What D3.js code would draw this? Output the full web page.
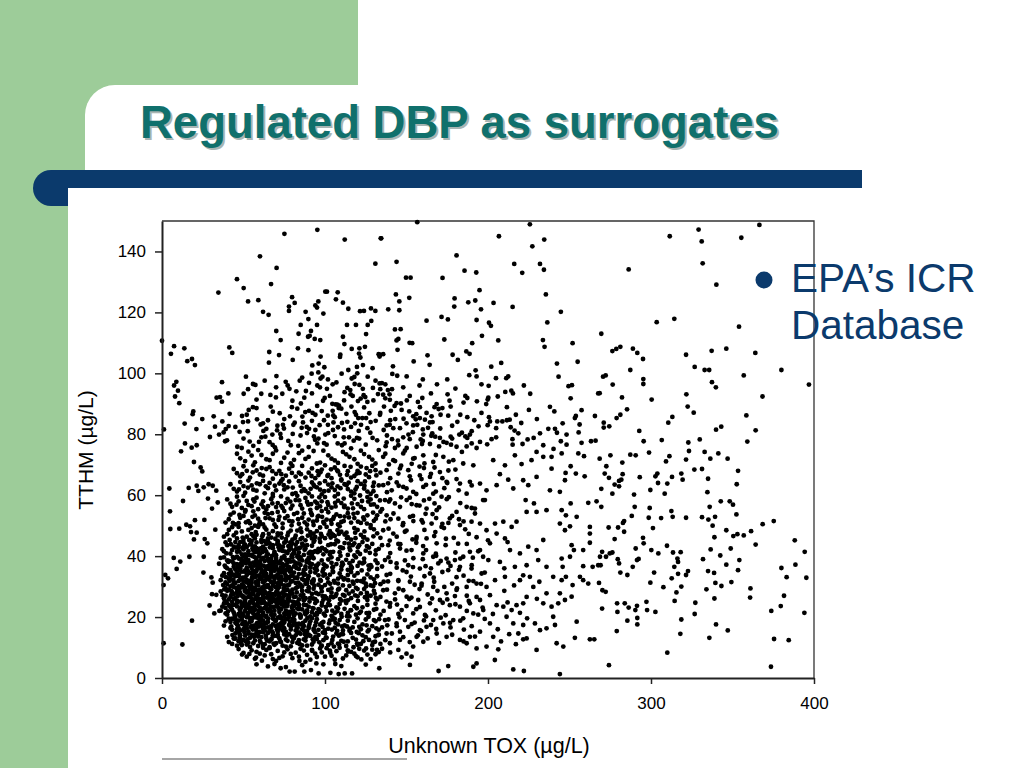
<!DOCTYPE html>
<html>
<head>
<meta charset="utf-8">
<script src="https://cdn.jsdelivr.net/npm/d3@7"></script>
<style>
  body { margin: 0; background: #fff; }
  text { font-family: "Liberation Sans", Arial, sans-serif; }
</style>
</head>
<body>
<div id="slide"></div>
<script>
/*
*    Regulated DBP as surrogates - ICR scatter
*/
var titleText = "Regulated DBP as surrogates";
var bulletLines = ["EPA\u2019s ICR", "Database"];
var xLabelText = "Unknown TOX (\u00b5g/L)";
var yLabelText = "TTHM (\u00b5g/L)";
var xTicks = [0, 100, 200, 300, 400];
var yTicks = [0, 20, 40, 60, 80, 100, 120, 140];

// [Unknown TOX, TTHM], region by region
var upperLeft = [[75.1,145.8],[95.3,147.1],[112.1,143.9],[134.2,144.3],[60.1,138.4],[70.3,134.6],[130.9,136.0],[46.0,130.9],[50.1,128.0],[34.6,126.5],[66.9,129.3],[52.8,123.6],[59.1,124.0],[62.0,120.2],[65.4,119.2],[100.2,126.8],[101.2,126.8],[107.8,126.6],[106.7,124.3],[111.0,123.2],[79.8,125.0],[77.9,121.9],[77.9,120.5],[81.4,123.1],[94.1,122.3],[95.9,123.6],[95.1,121.6],[99.0,119.6],[88.1,120.2],[89.8,117.8],[114.3,121.2],[121.5,120.4],[123.9,120.5],[128.2,121.3],[130.9,120.5],[128.4,117.2],[126.2,115.9],[113.5,115.9],[119.0,115.9],[85.1,115.9],[83.8,113.0],[91.4,113.9],[95.1,115.9],[89.6,112.0],[90.6,112.3],[93.7,111.3],[97.1,110.9],[70.1,113.9],[72.8,110.9],[111.0,112.0],[111.9,109.6],[125.2,112.9],[116.4,108.0],[121.1,108.2],[124.5,108.7],[120.9,106.5],[121.7,105.2],[132.9,106.3],[133.5,105.5],[83.4,108.2],[89.8,107.6],[65.8,107.0],[71.8,106.0],[65.6,103.5],[80.2,104.4],[97.3,105.5],[96.1,103.2],[99.6,102.0],[92.2,102.6],[109.4,106.1],[109.2,105.4],[114.3,101.1],[119.6,102.1],[123.3,102.7],[129.2,101.7],[0,110.7],[7.4,108.9],[5.5,106.4],[13.7,108.2],[15.5,104.0],[18.4,104.7],[20.2,102.7],[41.3,108.5],[43.1,106.7],[8.8,97.2],[7.4,96.0],[9.8,94.3],[8.0,92.4],[10.6,90.2],[36.8,97.1],[51.5,98.9],[33.5,92.0],[35.6,92.2],[36.8,90.7],[40.7,93.4],[50.1,93.3],[55.8,96.5],[57.3,96.2],[52.8,94.8],[60.9,93.3],[66.5,92.9],[69.9,92.1],[73.8,93.3],[75.9,97.2],[77.1,96.0],[84.5,97.6],[82.4,94.1],[88.3,94.2],[87.3,92.0],[91.8,99.9],[95.9,100.3],[97.3,98.3],[98.4,98.9],[101.8,98.0],[95.3,96.0],[96.9,95.4],[104.7,96.4],[98.8,91.0],[99.8,91.9],[113.7,95.2],[115.5,94.5],[116.4,98.3],[119.8,100.0],[118.2,96.5],[121.1,96.2],[117.0,92.6],[115.7,93.1],[123.7,92.8],[124.7,92.2],[129.4,95.2],[132.5,93.2],[133.5,96.7],[104.5,90.0],[106.5,89.8],[108.6,89.4],[120.2,90.9],[121.9,91.7],[19.2,87.5],[18.8,86.6],[24.7,85.0],[13.9,83.5],[21.1,81.7],[1.2,81.6],[31.7,85.9],[37.0,84.2],[32.5,82.5],[41.5,86.7],[40.9,82.7],[35.0,79.9],[37.8,80.6],[39.1,81.7],[29.4,79.1],[49.1,86.0],[49.7,84.0],[52.8,84.2],[53.2,88.0],[55.8,88.9],[58.3,84.9],[60.5,83.2],[62.0,83.6],[64.0,81.8],[47.6,80.8],[52.6,81.0],[53.8,77.6],[59.5,77.5],[63.4,79.2],[38.7,77.7],[39.9,78.0],[14.1,77.0],[18.2,75.6],[21.3,76.4],[11.7,74.4],[70.8,82.8],[70.6,81.3],[72.6,80.1],[74.8,81.9],[78.5,85.9],[80.6,83.1],[81.4,83.8],[86.1,85.8],[87.9,87.3],[90.2,87.7],[92.4,87.0],[94.1,86.4],[86.5,83.9],[88.8,82.4],[90.2,81.8],[99.4,84.6],[96.7,83.0],[94.1,81.4],[104.7,87.7],[105.1,86.2],[107.6,89.7],[108.4,88.6],[101.8,83.1],[104.9,81.4],[108.0,82.3],[110.4,83.7],[111.7,81.6],[113.1,86.7],[118.2,87.3],[120.4,85.3],[122.9,85.3],[125.2,85.3],[118.4,83.6],[122.1,83.1],[126.0,82.0],[127.8,80.5],[129.2,78.8],[114.7,79.0],[117.6,77.9],[119.6,78.8],[107.8,77.0],[110.4,76.4],[111.5,79.0],[93.9,78.2],[95.3,77.0],[99.4,77.1],[77.5,77.8],[83.6,76.2],[67.9,76.5],[69.3,75.7],[46.2,75.9],[48.9,75.5],[131.1,84.4],[133.9,87.0]];

var upperMid = [[156.6,149.6],[225.7,148.9],[134.5,144.3],[206.7,145.0],[227.2,141.7],[234.5,143.9],[143.9,136.6],[180.7,138.7],[216.1,135.9],[221.0,133.0],[231.9,135.9],[234.3,134.0],[149.7,131.4],[152.5,131.4],[172.1,131.3],[185.6,133.7],[192.8,133.1],[143.5,125.9],[145.6,123.6],[151.7,124.8],[138.8,121.0],[145.6,120.7],[179.5,124.6],[179.3,121.9],[187.9,123.3],[192.2,123.9],[194.8,127.3],[195.7,121.0],[203.4,123.1],[215.1,121.8],[235.5,125.9],[244.7,120.2],[162.3,117.3],[171.5,118.5],[175.4,117.7],[193.0,117.5],[200.6,116.6],[201.8,115.6],[236.4,116.7],[142.9,114.4],[146.4,114.5],[143.9,110.8],[145.0,111.3],[144.5,107.7],[151.9,110.0],[153.5,109.9],[173.2,111.1],[196.3,112.3],[206.3,110.8],[190.3,109.9],[233.7,110.9],[234.7,108.7],[251.9,109.9],[133.7,106.1],[135.7,106.3],[162.9,105.9],[164.2,102.8],[154.4,103.9],[178.3,106.1],[181.5,104.4],[186.7,107.2],[188.7,106.4],[202.0,102.2],[208.1,103.4],[242.3,103.2],[243.3,98.9],[255.0,103.8],[141.7,102.3],[141.3,99.8],[144.3,99.2],[150.1,99.0],[158.0,96.0],[168.7,96.4],[175.0,98.0],[188.5,99.4],[192.4,101.0],[193.0,99.0],[200.4,95.9],[204.9,98.4],[211.2,98.4],[212.4,99.0],[210.6,93.9],[214.3,94.3],[215.3,93.4],[225.9,93.3],[249.4,95.8],[251.5,96.1],[250.7,91.8],[267.6,93.4],[134.9,96.8],[137.0,96.4],[133.9,94.8],[138.6,94.5],[135.7,93.0],[139.6,93.1],[141.1,94.8],[139.8,91.3],[143.9,90.2],[146.6,90.1],[151.7,87.5],[157.0,90.6],[158.2,88.9],[168.5,89.9],[169.7,88.3],[170.9,86.4],[176.4,91.0],[177.1,89.1],[175.6,86.1],[186.1,92.6],[187.3,91.9],[193.2,90.8],[198.9,89.9],[199.8,91.4],[200.2,92.0],[187.3,85.6],[191.6,84.6],[194.2,82.6],[200.6,85.6],[201.2,84.2],[199.8,83.0],[205.7,84.2],[208.8,84.2],[211.6,84.6],[213.3,84.8],[211.6,88.9],[217.1,86.4],[220.4,83.7],[213.9,82.3],[216.3,81.2],[218.6,80.3],[225.1,88.0],[240.7,87.5],[245.8,83.6],[241.1,81.8],[242.3,80.5],[237.0,81.8],[231.9,80.3],[228.0,78.8],[224.3,78.3],[256.2,83.2],[257.4,87.9],[253.9,86.0],[253.3,85.3],[248.2,79.9],[255.6,80.6],[265.6,86.0],[257.4,77.2],[263.2,77.7],[266.0,77.9],[202.2,78.4],[199.5,76.7],[215.1,76.6],[221.2,76.8],[233.9,76.4],[240.2,75.2],[244.7,77.7],[248.2,76.6],[133.7,86.4],[136.2,89.1],[140.4,87.7],[143.1,85.0],[137.8,82.9],[141.9,82.0],[146.0,82.0],[148.0,79.0],[141.1,78.4],[137.8,77.3],[142.9,75.5],[150.1,75.5],[154.1,82.9],[156.6,83.1],[153.9,80.7],[160.3,79.9],[165.8,80.3],[167.6,79.2],[170.5,78.8],[174.6,77.2],[177.1,79.2],[182.4,79.9],[184.0,80.5],[186.1,79.3],[188.9,79.9],[187.3,78.8],[164.4,76.8],[159.5,76.8],[156.2,75.9],[177.3,76.6],[180.7,75.9],[186.9,76.0],[193.0,75.5],[195.1,77.5],[158.2,85.3],[161.3,84.8],[164.4,83.9],[154.1,85.9],[162.3,87.0],[165.4,85.9]];

var upperRight = [[311.5,145.0],[329.2,147.2],[331.1,143.3],[355.4,144.5],[366.5,148.7],[286.3,134.1],[331.7,136.1],[340.1,129.1],[303.5,116.8],[314.3,117.9],[354.0,115.3],[269.5,113.0],[276.3,107.3],[278.7,108.0],[281.2,108.7],[288.9,108.1],[291.6,106.7],[295.1,104.7],[321.5,106.1],[337.2,107.4],[346.2,108.1],[364.0,106.7],[287.3,101.1],[326.8,102.1],[332.9,101.1],[335.7,101.1],[380.0,101.1],[356.9,99.3],[270.6,98.9],[272.2,99.3],[276.5,96.3],[295.3,98.1],[295.3,96.5],[337.4,97.1],[339.8,95.4],[396.9,96.3],[268.5,93.5],[282.2,92.1],[300.4,91.4],[321.7,93.1],[368.4,92.4],[322.5,89.1],[326.2,87.1],[285.3,88.2],[278.9,85.3],[281.2,86.4],[271.0,83.8],[271.0,82.2],[274.4,82.6],[292.8,81.1],[310.6,83.8],[313.1,85.7],[295.5,77.7],[306.6,78.1],[322.9,77.3],[329.9,78.3],[339.9,81.5],[343.1,82.5],[358.5,86.2],[364.2,81.3],[359.1,77.6]];

var lowerLeftSparse = [[4.5,62.2],[4.9,54.7],[5.1,48.9],[10.6,49.0],[12.9,58.1],[16.4,62.4],[21.3,63.1],[22.3,61.4],[25.6,62.6],[28.6,63.6],[31.1,63.1],[33.3,61.5],[19.6,70.9],[23.7,69.1],[24.7,67.8],[14.9,50.3],[17.2,49.8],[20.2,51.8],[17.8,47.9],[21.3,47.7],[19.6,45.5],[26.0,51.9],[32.7,48.7],[26.2,45.6],[27.8,44.2],[28.2,58.9],[30.7,55.6],[34.2,57.6],[7.2,39.4],[11.2,38.2],[9.0,35.8],[16.8,39.8],[2.0,33.8],[3.7,32.7],[1.0,30.5],[25.6,39.8],[25.4,34.6],[30.3,33.0],[31.1,31.3],[30.7,27.5],[33.3,27.3],[29.2,23.8],[32.1,21.2],[35.2,22.0],[18.4,18.8],[12.5,11.0],[1.0,11.4],[49.1,7.7],[53.6,7.9],[57.7,6.7],[61.3,5.7],[72.8,3.2],[78.3,2.1],[81.4,2.1],[87.3,2.1],[91.4,2.6],[96.1,1.5],[103.3,1.7],[108.4,1.3],[112.1,1.5],[116.6,1.5],[106.3,4.6],[94.7,4.8],[84.3,5.6],[122.3,6.1],[119.0,7.2],[131.9,9.2],[133.3,3.2],[58,4.5],[65,3.8],[69,4.6],[76,3.6],[86,4.2],[99,4.5],[110,3.9],[125,4.4]];

var lowerMid = [[203.2,71.5],[210.4,69.8],[216.5,73.1],[220.6,70.2],[226.7,71.5],[229.8,74.2],[233.9,72.6],[239.0,72.6],[239.0,68.7],[245.2,73.7],[247.6,67.3],[250.7,69.5],[255.4,73.7],[258.9,72.8],[253.9,67.1],[259.3,66.2],[207.3,66.9],[212.4,65.1],[205.3,63.3],[215.5,62.2],[221.6,64.9],[229.8,66.0],[224.7,63.3],[228.2,57.3],[223.1,58.4],[223.7,54.5],[229.8,54.5],[235.9,55.1],[238.0,61.6],[244.1,61.1],[247.2,64.9],[250.7,57.3],[245.2,55.1],[247.8,53.4],[254.4,52.9],[261.5,57.5],[266.6,58.0],[244.1,50.7],[250.3,49.8],[247.2,48.5],[262.5,49.6],[262.5,47.4],[262.5,44.4],[251.3,43.6],[252.7,42.0],[258.4,42.0],[250.3,39.8],[245.2,39.2],[245.8,36.5],[258.4,36.7],[264.2,36.5],[267.6,37.0],[268.7,39.8],[256.4,33.2],[258.4,32.1],[261.5,31.0],[251.9,30.5],[247.8,33.2],[245.2,32.1],[240.0,33.2],[244.1,27.8],[243.1,24.5],[247.2,25.6],[251.3,26.7],[239.0,23.4],[240.0,20.1],[233.9,24.5],[235.9,27.8],[231.5,31.6],[227.8,29.9],[225.7,33.2],[221.6,33.7],[219.6,32.1],[223.7,26.6],[221.6,24.5],[217.5,23.9],[219.6,21.4],[214.5,22.3],[209.4,23.4],[205.3,23.9],[211.4,20.1],[215.5,17.9],[221.6,17.4],[228.8,17.9],[231.9,15.7],[235.9,16.3],[241.1,17.4],[254.4,18.5],[253.3,13.2],[262.5,12.7],[265.2,12.7],[242.1,11.4],[246.2,10.3],[229.8,9.2],[223.7,13.0],[221.6,12.7],[218.6,14.6],[217.1,11.1],[206.3,9.4],[204.2,5.9],[215.5,2.8],[222.0,2.3],[244.1,1.3],[191.0,3.7],[193.0,4.8],[175.6,3.9],[169.7,2.3],[153.1,7.0],[152.1,4.3],[147.0,6.8],[178.7,71.5],[184.8,70.4],[191.0,69.8],[195.1,63.8],[188.9,64.4],[182.8,63.8],[186.9,60.5],[199.1,61.6],[198.1,58.4],[192.0,55.6],[186.9,56.2],[180.7,54.5],[176.6,52.4],[182.8,50.2],[189.9,51.3],[195.1,50.7],[199.1,48.5],[204.3,50.7],[209.4,51.3],[214.5,49.6],[217.5,51.3],[205.3,47.4],[210.4,45.8],[201.2,44.2],[195.1,42.0],[188.9,41.4],[184.8,39.8],[179.7,38.7],[174.6,39.2],[169.5,37.6],[175.6,35.4],[182.8,36.5],[189.9,35.9],[196.1,34.3],[200.2,38.7],[207.3,38.1],[213.5,42.0],[219.6,40.9],[224.7,43.1],[229.8,42.0],[233.9,45.3],[230.8,38.7],[235.9,36.5],[223.7,37.0],[216.5,36.5],[210.4,33.2],[204.3,32.1],[199.1,29.9],[193.0,31.0],[186.9,29.9],[180.7,28.9],[174.6,27.8],[170.5,25.6],[176.6,23.9],[182.8,23.4],[188.9,24.5],[195.1,25.6],[201.2,27.2],[197.1,22.3],[191.0,21.2],[184.8,19.6],[178.7,19.0],[172.6,17.9],[166.4,19.0],[162.3,16.8],[168.5,14.6],[174.6,13.5],[182.8,12.5],[188.9,13.5],[195.1,15.2],[201.2,17.9],[203.2,13.5],[199.1,10.3],[193.0,9.7],[186.9,11.4],[160.3,11.9],[156.2,13.5],[154.1,10.3],[139.8,11.4],[146.0,12.5],[135.7,72.6],[141.9,71.5],[148.0,73.7],[154.1,72.0],[160.3,73.1],[166.4,70.9],[172.6,72.6],[137.8,68.2],[145.0,67.1],[151.1,68.2],[158.2,66.5],[164.4,66.0],[170.5,67.6],[174.6,64.4],[135.7,63.3],[140.9,61.6],[148.0,62.7],[154.1,61.1],[160.3,62.7],[166.4,60.5],[171.5,59.5],[136.8,58.4],[142.9,57.3],[150.1,58.4],[156.2,56.7],[162.3,55.6],[168.5,55.1],[137.8,53.4],[145.0,52.3],[152.1,52.9],[159.3,51.8],[165.4,50.7],[171.5,49.6],[135.7,48.5],[141.9,47.4],[149.0,48.0],[156.2,46.3],[162.3,45.8],[168.5,44.2],[138.8,43.6],[146.0,42.5],[153.1,42.0],[160.3,40.9],[166.4,39.8],[136.8,38.7],[143.9,37.6],[151.1,37.0],[158.2,35.9],[164.4,34.3],[137.8,33.8],[145.0,32.1],[152.1,31.6],[159.3,31.0],[166.4,29.9],[135.7,28.8],[142.9,27.8],[150.1,26.7],[157.2,25.6],[164.4,24.5],[139.8,23.4],[147.0,22.3],[154.1,21.2],[161.3,20.7],[136.8,19.0],[143.9,17.9],[151.1,16.8],[158.2,15.7],[137.8,14.6],[146.0,15.2]];

var lowerRight = [[268.5,72.0],[275.1,73.1],[287.3,73.3],[290.6,73.1],[298.8,74.0],[311.3,72.8],[323.3,74.5],[332.9,74.2],[341.3,73.7],[347.0,72.0],[336.4,72.0],[321.5,71.7],[309.2,71.1],[272.6,69.5],[282.4,70.7],[271.6,67.1],[274.2,65.7],[282.6,66.9],[281.8,65.1],[280.4,64.7],[277.7,63.5],[280.4,62.9],[269.5,62.1],[276.3,60.5],[293.1,65.9],[302.7,66.2],[303.9,67.1],[304.3,64.0],[310.0,63.8],[312.9,66.0],[318.6,67.1],[319.4,65.1],[326.6,68.4],[331.3,68.6],[335.0,65.4],[353.4,68.0],[352.6,63.6],[334.6,61.0],[308.4,60.5],[299.6,61.7],[289.6,60.2],[269.5,56.2],[290.0,56.2],[288.2,53.2],[283.5,51.5],[282.8,50.9],[279.8,49.4],[283.5,48.0],[274.0,49.4],[277.7,45.6],[299.2,55.8],[298.6,52.6],[301.2,49.2],[306.2,52.5],[312.5,54.8],[313.3,52.9],[321.5,52.6],[331.3,52.8],[335.2,52.0],[339.3,52.9],[337.8,50.0],[336.0,56.2],[342.8,58.0],[348.3,58.0],[350.3,56.9],[352.4,53.7],[346.2,48.5],[338.9,46.2],[353.0,47.2],[350.5,46.6],[356.9,46.8],[361.4,48.2],[364.2,43.8],[368.5,50.5],[375.3,51.5],[388.2,45.2],[394.3,41.4],[380.0,36.1],[383.2,33.1],[388.6,37.2],[395.3,32.9],[295.1,46.0],[295.5,44.2],[290.6,42.5],[291.4,38.7],[292.4,39.1],[288.8,36.5],[285.5,33.8],[280.4,37.6],[279.6,39.0],[281.2,34.6],[274.7,40.9],[276.3,41.2],[272.4,39.8],[270.0,41.4],[269.1,37.0],[268.1,31.2],[270.2,28.8],[272.2,28.3],[270.0,22.8],[279.2,24.5],[279.4,21.7],[283.9,24.5],[285.5,18.8],[286.3,23.1],[290.4,22.3],[291.4,23.7],[291.6,19.7],[291.6,17.6],[279.0,15.4],[297.6,22.3],[297.2,25.0],[302.7,21.7],[300.2,42.0],[304.5,40.9],[309.8,43.4],[313.5,41.2],[318.2,41.3],[316.2,39.2],[316.6,38.1],[314.3,36.5],[312.7,32.7],[316.6,34.2],[322.7,35.1],[321.5,33.8],[307.6,29.8],[299.6,31.3],[301.9,34.6],[318.6,30.0],[315.6,28.1],[314.5,25.3],[318.6,19.2],[318.0,14.5],[327.2,24.7],[326.8,21.0],[331.9,39.0],[336.6,42.2],[335.0,35.1],[338.7,34.5],[339.5,31.2],[343.2,30.2],[342.5,40.2],[346.2,37.2],[348.9,42.5],[349.3,31.5],[354.2,38.7],[353.4,35.4],[334.0,29.1],[338.9,26.1],[339.9,17.6],[347.1,15.6],[335.8,13.2],[310.0,8.3],[274.2,4.2],[373.8,22.0],[379.6,23.6],[381.6,27.0],[375.5,12.8],[384.5,12.4],[373.6,3.7],[394.1,21.4],[361.0,29.4],[360.8,26.4]];

// the thick cloud, band by band from the bottom up
var denseBands = [[47,9.5],[50,8.2],[55,9.1],[58,8.6],[63,7.4],[66,9.8],[68,6.2],[71,8.9],[74,7.1],[77,9.4],[80,6.5],[82,8.3],[85,9.6],[89,7.6],[92,9.2],[95,6.9],[98,8.4],[101,9.8],[104,7.3],[107,8.8],[111,6.4],[114,9.1],[118,8.0],[121,9.6],[126,7.7],[129,9.3],[133,8.5],[62,9.9],[70,5.6],[88,5.3],
[40,13.5],[43,11.2],[45,14.6],[47,12.1],[49,10.8],[51,13.9],[53,11.6],[55,14.2],[57,12.3],[59,10.5],[61,13.4],[63,11.1],[65,14.8],[67,12.6],[69,10.9],[71,13.7],[73,11.8],[75,14.3],[77,12.2],[79,10.4],[81,13.1],[83,11.5],[85,14.5],[87,12.7],[89,10.6],[91,13.8],[93,11.9],[96,14.1],[99,12.4],[102,10.8],[105,13.6],[108,11.3],[111,14.4],[114,12.0],[117,13.2],[120,10.9],[123,14.0],[127,12.5],[131,13.7],[134,11.2],[54,10.2],[66,10.1],[76,10.3],[88,14.9],[100,14.7],
[38,17.2],[41,19.5],[43,15.8],[45,18.1],[47,16.4],[49,19.2],[51,17.0],[53,15.3],[55,18.7],[57,16.1],[59,19.6],[61,17.4],[63,15.6],[65,18.4],[67,16.7],[69,19.1],[71,15.2],[73,17.9],[75,16.3],[77,19.4],[79,15.9],[81,18.2],[83,16.6],[85,19.8],[87,17.1],[89,15.4],[91,18.6],[93,16.2],[95,19.3],[97,17.5],[100,15.7],[103,18.9],[106,16.5],[109,19.0],[112,17.3],[115,15.5],[118,18.4],[121,16.8],[125,19.2],[129,17.0],[133,15.8],[52,19.9],[60,15.1],[72,19.9],[84,15.0],[46,15.2],[58,17.8],[64,19.9],[70,17.0],[80,17.3],[94,15.0],
[36,22.1],[38,24.4],[40,20.8],[42,23.2],[44,21.5],[46,24.7],[48,22.3],[50,20.4],[52,23.8],[54,21.9],[56,24.5],[58,20.7],[60,23.1],[62,21.4],[64,24.2],[66,22.6],[68,20.3],[70,23.5],[72,21.7],[74,24.8],[76,22.0],[78,20.6],[80,23.7],[82,21.2],[84,24.1],[86,22.5],[88,20.9],[90,23.4],[92,21.6],[94,24.6],[97,22.2],[100,20.5],[103,23.9],[106,21.3],[109,24.3],[112,22.7],[115,20.2],[118,23.6],[122,21.8],[126,24.0],[130,22.4],[134,20.8],[45,20.1],[51,22.0],[57,22.4],[63,22.9],[69,22.1],[75,20.2],[81,24.9],[59,25.0],[53,20.0],[67,24.9],
[37,27.2],[39,29.5],[41,25.8],[43,28.1],[45,26.4],[47,29.2],[49,27.0],[51,25.3],[53,28.7],[55,26.1],[57,29.6],[59,27.4],[61,25.6],[63,28.4],[65,26.7],[67,29.1],[69,25.2],[71,27.9],[73,26.3],[75,29.4],[77,25.9],[79,28.2],[81,26.6],[83,29.8],[85,27.1],[87,25.4],[89,28.6],[91,26.2],[93,29.3],[96,27.5],[99,25.7],[102,28.9],[105,26.5],[108,29.0],[111,27.3],[114,25.5],[117,28.4],[120,26.8],[124,29.2],[128,27.0],[132,25.8],[44,29.9],[50,29.8],[56,27.6],[62,27.0],[68,27.5],[74,28.0],[48,25.1],[58,25.9],[64,29.9],[70,29.7],[80,25.1],[54,27.5],[60,29.0],[66,28.0],[72,25.0],[78,27.0],
[36,32.1],[38,34.4],[40,30.8],[42,33.2],[44,31.5],[46,34.7],[48,32.3],[50,30.4],[52,33.8],[54,31.9],[56,34.5],[58,30.7],[60,33.1],[62,31.4],[64,34.2],[66,32.6],[68,30.3],[70,33.5],[72,31.7],[74,34.8],[76,32.0],[78,30.6],[80,33.7],[82,31.2],[84,34.1],[86,32.5],[88,30.9],[90,33.4],[92,31.6],[94,34.6],[97,32.2],[100,30.5],[103,33.9],[106,31.3],[109,34.3],[112,32.7],[115,30.2],[118,33.6],[122,31.8],[126,34.0],[130,32.4],[134,30.8],[47,30.1],[53,31.0],[59,32.0],[65,30.5],[71,34.0],[57,33.0],[63,35.0],[49,34.9],[55,30.0],[61,34.6],[67,31.5],[73,33.2],[79,35.0],
[35,37.5],[38,39.6],[40,36.0],[43,38.3],[45,35.6],[47,39.2],[49,37.0],[51,35.3],[53,38.7],[55,36.1],[57,39.6],[59,37.4],[61,35.6],[63,38.4],[65,36.7],[67,39.1],[69,35.2],[71,37.9],[73,36.3],[75,39.4],[77,35.9],[79,38.2],[81,36.6],[83,39.8],[85,37.1],[87,35.4],[89,38.6],[91,36.2],[93,39.3],[96,37.5],[99,35.7],[102,38.9],[105,36.5],[108,39.0],[111,37.3],[114,35.5],[117,38.4],[120,36.8],[124,39.2],[128,37.0],[132,35.8],[50,40.0],[56,37.9],[62,36.9],[68,38.0],[58,35.1],[64,40.0],[72,35.0],[46,37.4],
[37,42.3],[39,44.5],[42,40.8],[44,43.1],[46,41.4],[48,44.6],[50,42.2],[52,40.4],[54,43.8],[56,41.9],[58,44.5],[60,40.7],[62,43.1],[64,41.4],[66,44.2],[68,42.6],[70,40.3],[72,43.5],[74,41.7],[76,44.8],[78,42.0],[80,40.6],[82,43.7],[84,41.2],[86,44.1],[88,42.5],[90,40.9],[92,43.4],[94,41.6],[97,44.6],[100,42.2],[103,40.5],[106,43.9],[109,41.3],[112,44.3],[115,42.7],[118,40.2],[121,43.6],[125,41.8],[129,44.0],[133,42.4],[55,45.0],[65,45.0],[75,40.0],[61,42.6],
[40,47.2],[43,49.5],[46,45.8],[49,48.1],[52,46.4],[55,49.2],[58,47.0],[61,45.3],[64,48.7],[67,46.1],[70,49.6],[73,47.4],[76,45.6],[79,48.4],[82,46.7],[85,49.1],[88,45.2],[91,47.9],[94,46.3],[97,49.4],[100,45.9],[103,48.2],[106,46.6],[109,49.8],[112,47.1],[116,45.4],[120,48.6],[124,46.2],[128,49.3],[132,47.5],[57,50.0],[71,45.0],
[41,52.1],[44,54.3],[47,50.8],[50,53.2],[53,51.5],[56,54.7],[59,52.3],[62,50.4],[65,53.8],[68,51.9],[71,54.5],[74,50.7],[77,53.1],[80,51.4],[83,54.2],[86,52.6],[89,50.3],[92,53.5],[95,51.7],[98,54.8],[101,52.0],[104,50.6],[107,53.7],[110,51.2],[114,54.1],[118,52.5],[122,50.9],[126,53.4],[130,51.6],[134,54.6],
[42,57.2],[46,59.5],[49,55.8],[52,58.1],[55,56.4],[58,59.2],[61,57.0],[64,55.3],[67,58.7],[70,56.1],[73,59.6],[76,57.4],[79,55.6],[82,58.4],[85,56.7],[88,59.1],[91,55.2],[94,57.9],[97,56.3],[100,59.4],[104,55.9],[108,58.2],[112,56.6],[116,59.8],[120,57.1],[124,55.4],[128,58.6],[132,56.2],
[44,62.1],[48,64.3],[51,60.8],[55,63.2],[58,61.5],[62,64.7],[65,62.3],[68,60.4],[72,63.8],[75,61.9],[78,64.5],[82,60.7],[85,63.1],[88,61.4],[92,64.2],[95,62.6],[98,60.3],[102,63.5],[106,61.7],[110,64.8],[114,62.0],[118,60.6],[122,63.7],[126,61.2],[130,64.1],
[46,67.2],[50,69.5],[54,65.8],[58,68.1],[62,66.4],[66,69.2],[70,67.0],[74,65.3],[78,68.7],[82,66.1],[86,69.6],[90,67.4],[94,65.6],[98,68.4],[102,66.7],[106,69.1],[110,65.2],[114,67.9],[118,66.3],[122,69.4],[127,65.9],[131,68.2],
[48,72.1],[53,74.3],[57,70.8],[61,73.2],[66,71.5],[70,74.7],[75,72.3],[79,70.4],[84,73.8],[88,71.9],[93,74.5],[97,70.7],[102,73.1],[106,71.4],[111,74.2],[115,72.6],[120,70.3],[124,73.5],[129,71.7],[133,74.8]];

// second pass over the cloud, between the first-pass dots
var cloudFill = [[52,7.0],[57,6.3],[60,8.0],[64,9.2],[67,7.8],[72,6.6],[75,8.4],[79,7.9],[84,7.0],[87,9.0],[91,6.0],[94,8.0],[97,9.7],[100,7.0],[103,9.0],[106,6.0],[109,9.9],[113,7.4],[116,8.6],[120,6.8],[124,9.0],[128,6.2],[131,7.8],[135,9.6],[140,8.4],[145,9.2],[150,8.0],
[41,11.8],[44,13.0],[46,10.6],[48,14.0],[50,12.5],[52,11.0],[54,13.2],[56,11.4],[58,14.4],[60,12.2],[62,10.8],[64,13.0],[66,12.0],[68,14.0],[70,11.4],[72,13.0],[74,10.6],[76,12.6],[78,14.4],[80,11.8],[82,14.0],[84,12.4],[86,10.7],[88,12.3],[90,14.2],[92,11.0],[95,12.8],[98,10.6],[101,13.2],[104,11.4],[107,14.6],[110,12.2],[113,10.5],[116,14.8],[119,12.6],[122,11.2],[125,13.4],[129,10.8],[133,14.2],[137,12.4],[141,14.6],[148,13.4],[152,11.8],[157,14.0],[163,13.0],[170,11.5],[178,14.2],[185,12.0],[192,13.6],[208,12.0],[213,14.4],
[39,18.6],[42,16.4],[44,19.4],[46,17.6],[48,15.6],[50,18.2],[52,16.4],[54,19.6],[56,17.2],[58,15.4],[60,18.4],[62,16.2],[64,18.0],[66,15.4],[68,17.6],[70,19.0],[72,16.4],[74,18.6],[76,15.2],[78,17.4],[80,19.4],[82,15.6],[84,17.8],[86,16.0],[88,18.8],[90,16.4],[92,19.6],[94,17.2],[96,15.8],[99,18.4],[102,16.2],[105,19.2],[108,17.6],[111,15.6],[114,18.8],[117,16.6],[120,19.6],[123,17.6],[127,15.8],[131,18.6],[135,16.6],[139,19.2],[144,17.0],[149,19.0],[155,18.2],[159,15.4],[165,17.4],[171,19.8],[177,16.6],[183,18.8],[190,17.0],[198,19.4],[206,16.0],[224,19.6],
[37,23.4],[39,21.2],[41,24.0],[43,22.4],[45,24.0],[47,21.0],[49,23.6],[51,24.4],[53,21.4],[55,23.0],[57,20.6],[59,23.6],[61,24.6],[63,20.4],[65,21.8],[67,23.4],[69,20.8],[71,24.2],[73,22.6],[75,21.2],[77,23.8],[79,21.8],[81,20.4],[83,22.8],[85,20.6],[87,24.0],[89,22.2],[91,20.2],[93,22.8],[95,21.4],[98,23.8],[101,22.0],[104,20.4],[107,23.2],[110,21.0],[113,24.6],[116,22.2],[119,20.8],[123,23.2],[127,21.4],[131,24.4],[136,22.0],[140,24.6],[145,21.0],[150,23.6],[156,22.6],[162,20.2],[168,22.2],[174,20.6],[180,24.2],[187,22.0],[194,20.8],[203,21.0],[212,24.8],
[36,28.4],[38,26.2],[40,28.6],[42,26.6],[44,27.6],[46,25.4],[48,29.6],[50,26.4],[52,28.0],[54,29.4],[56,25.6],[58,28.8],[60,26.0],[62,29.2],[64,26.4],[66,29.6],[68,26.2],[70,28.2],[72,26.8],[74,25.6],[76,29.0],[78,25.4],[80,27.8],[82,29.4],[84,25.8],[86,28.6],[88,26.2],[90,29.8],[92,27.6],[95,25.2],[98,28.4],[101,26.2],[104,29.4],[107,27.6],[110,25.4],[113,28.8],[116,26.2],[119,29.6],[122,27.8],[126,25.6],[130,28.6],[134,26.6],[138,29.0],[143,25.8],[148,28.8],[153,26.4],[158,29.2],[163,27.4],[169,28.6],[175,25.8],[181,29.4],[187,27.0],[193,26.6],[210,28.6],[230,26.0],
[37,33.6],[39,31.4],[41,32.6],[43,30.4],[45,33.4],[47,31.8],[49,30.6],[51,33.0],[53,34.4],[55,31.2],[57,34.8],[59,30.4],[61,32.4],[63,30.2],[65,33.2],[67,34.8],[69,31.4],[71,30.6],[73,34.6],[75,30.4],[77,33.2],[79,31.6],[81,34.6],[83,32.8],[85,30.6],[87,33.8],[89,31.6],[91,34.8],[93,32.4],[96,30.6],[99,33.6],[102,31.4],[105,34.8],[108,32.6],[111,30.4],[114,33.8],[117,31.6],[120,34.4],[124,32.6],[128,30.4],[132,33.4],[136,31.6],[140,34.2],[145,31.8],[150,34.8],[155,30.6],[161,33.4],[167,31.6],[172,34.8],[178,31.0],[185,33.6],[191,31.8],[198,34.6],[216,30.4],
[36,39.4],[39,36.4],[41,38.4],[42,35.4],[44,37.6],[46,39.8],[48,36.0],[50,38.2],[52,35.6],[54,37.4],[56,35.2],[58,38.8],[60,36.4],[62,39.4],[64,35.8],[66,38.0],[68,36.0],[70,39.4],[72,37.6],[74,35.6],[76,38.8],[78,36.4],[80,39.6],[82,37.8],[84,35.8],[86,38.6],[88,36.6],[90,39.0],[92,37.4],[95,35.4],[98,38.6],[101,36.6],[104,39.6],[107,37.4],[110,35.6],[113,38.8],[116,36.6],[119,39.6],[123,37.6],[127,35.6],[131,38.6],[135,36.6],[139,39.6],[144,36.2],[149,38.6],[154,36.4],[160,39.0],[165,36.0],[171,38.4],[177,36.8],[183,39.2],[190,37.0],[197,39.8],[210,36.0],
[38,41.6],[40,43.6],[43,42.0],[45,44.6],[47,42.8],[49,40.6],[51,43.8],[53,41.6],[55,40.2],[57,43.2],[59,41.2],[61,44.6],[63,42.4],[65,40.6],[67,43.6],[69,41.4],[71,44.6],[73,42.2],[75,44.4],[77,41.0],[79,43.4],[81,41.8],[83,44.6],[85,42.8],[87,40.4],[89,43.6],[91,41.4],[93,44.6],[96,42.4],[99,40.6],[102,43.6],[105,41.4],[108,44.8],[111,42.6],[114,40.4],[117,43.6],[120,41.4],[123,44.6],[127,42.8],[131,40.6],[135,43.6],[140,41.0],[145,44.0],[150,41.8],[156,44.4],[162,42.0],[168,40.8],[174,43.6],[180,41.2],[187,44.0],[194,41.6],[212,44.6],
[38,46.4],[41,48.6],[44,46.8],[47,49.6],[50,45.6],[53,48.6],[56,46.6],[59,49.6],[62,47.2],[65,45.8],[68,48.2],[71,46.8],[74,49.2],[77,46.8],[80,45.4],[83,48.4],[86,46.0],[89,48.8],[92,45.8],[95,48.2],[98,46.6],[101,49.6],[104,47.4],[107,45.2],[110,48.0],[114,46.2],[118,49.2],[122,47.0],[126,45.4],[130,48.8],[134,46.0],[139,49.0],[144,46.4],[150,48.4],[156,45.6],[161,48.6],[167,46.6],[173,49.2],[179,46.0],[186,48.8],[193,46.2],[200,45.2],
[39,51.0],[42,53.6],[45,50.4],[48,52.6],[51,54.6],[54,50.8],[57,53.4],[60,51.2],[63,54.2],[66,52.4],[69,50.4],[72,53.0],[75,54.8],[78,51.6],[81,53.8],[84,50.6],[87,54.0],[90,52.0],[93,50.2],[96,53.2],[99,51.2],[102,54.4],[105,52.2],[108,50.4],[112,53.0],[116,51.0],[120,54.2],[124,52.0],[128,50.2],[132,53.4],[137,51.4],[142,54.0],[148,50.8],[154,53.2],[160,51.0],[166,53.8],[172,50.6],[178,53.2],[185,51.4],[192,54.0],
[40,58.6],[43,56.2],[47,58.0],[50,59.8],[53,56.8],[56,58.6],[59,55.4],[62,58.0],[65,56.4],[68,59.6],[71,57.4],[74,55.8],[77,58.8],[80,56.6],[83,59.8],[86,55.6],[89,57.8],[92,59.6],[95,55.8],[98,58.0],[102,56.8],[106,59.6],[110,57.4],[114,55.6],[118,58.8],[122,56.2],[126,59.4],[130,57.0],[135,55.4],[140,58.6],[146,56.2],[152,59.2],[158,56.6],[164,58.8],[170,56.0],[176,59.4],[183,57.4],[190,55.8],[197,58.4],
[42,63.6],[46,61.2],[50,63.0],[53,64.8],[56,61.8],[60,63.6],[63,60.6],[66,64.0],[70,61.6],[73,64.6],[77,62.6],[80,60.4],[84,64.6],[87,62.0],[90,60.6],[93,63.4],[97,61.8],[100,64.6],[104,62.6],[108,60.4],[112,63.6],[116,61.2],[120,64.6],[124,62.2],[128,60.4],[133,63.2],[138,61.0],[144,64.2],[150,62.2],[156,60.4],[162,63.4],[168,61.2],[175,64.0],[182,61.6],[190,63.2],
[44,68.6],[48,66.2],[52,68.0],[56,69.8],[60,66.8],[64,68.6],[68,65.4],[72,68.0],[76,66.4],[80,69.6],[84,67.4],[88,65.8],[92,68.8],[96,66.6],[100,69.8],[104,65.6],[108,67.8],[112,69.6],[116,65.8],[120,68.0],[125,66.8],[129,69.6],[134,67.4],[140,65.6],[146,68.8],[152,66.2],[158,69.4],[165,67.0],[172,65.6],[180,68.4],
[46,73.6],[51,71.2],[55,73.0],[59,74.8],[64,71.8],[68,73.6],[73,70.6],[77,74.0],[81,71.6],[86,74.6],[90,72.6],[95,70.4],[99,74.6],[104,72.0],[108,70.6],[113,73.4],[118,71.8],[122,74.6],[127,72.6],[131,70.4],[137,73.6],[143,71.2],[149,74.6],[155,72.2],[161,70.4],[168,73.2],[176,71.0],[184,74.2],
[50,78.6],[56,76.2],[61,79.0],[66,77.4],[73,78.8],[79,76.4],[85,79.6],[90,75.8],[96,78.6],[101,76.6],[106,79.4],[112,77.0],[116,75.4],[121,78.6],[125,76.6],[132,78.0],[138,79.6],[145,76.4],[152,78.4],[160,77.8],[170,76.0],[178,78.6],[190,77.0],[205,79.0],[215,78.4],
[45,82.4],[52,86.4],[58,88.6],[65,84.6],[68,87.4],[75,85.0],[83,88.4],[89,80.4],[92,84.4],[98,87.6],[102,80.4],[106,85.6],[110,88.4],[116,82.4],[119,86.4],[124,88.8],[128,84.0],[136,81.4],[140,84.6],[147,88.0],[150,83.6],[156,86.6],[160,81.6],[166,84.0],[172,88.6],[178,82.8],[183,86.4],[190,81.0],[196,87.0],[205,82.0],[230,85.0],[238,89.0],
[58,91.4],[63,97.6],[70,95.4],[80,91.0],[86,98.6],[92,93.4],[103,92.6],[107,97.0],[112,93.8],[118,98.8],[126,90.6],[131,97.6],[137,91.8],[148,95.4],[152,92.6],[160,98.0],[165,93.4],[180,95.0],[185,90.4],[196,96.4],[206,92.4],[222,96.0]];

var coreExtra = [[46,23.5],[48,27.8],[50,31.7],[52,36.2],[54,24.9],[56,29.3],[58,33.6],[60,38.1],[62,26.1],[64,30.4],[66,35.7],[68,19.5],[70,25.8],[72,29.9],[74,37.4],[76,27.3],[78,32.8],[80,21.4],[47,33.4],[49,38.8],[51,18.3],[53,26.6],[55,32.2],[57,41.3],[59,21.0],[61,28.2],[63,36.6],[65,16.6],[67,33.9],[69,40.8],[71,19.8],[73,30.9],[75,23.4],[77,37.8],[79,42.5],[44,26.0],[42,30.0],[44,36.5],[50,16.0],[56,21.2],[62,18.8],[68,14.8],[74,17.6],[58,42.6],[64,44.0],[52,43.0],[70,38.6],[60,27.9],[54,34.5],[66,25.3],[48,20.2],[72,27.6],[62,33.3],[56,39.9],[76,35.3],[80,29.0],[82,26.7],[84,22.6],[86,30.0],[88,35.8],[90,28.4],[92,40.2],[94,25.9],[96,33.7],[98,18.0],[88,26.1],[84,37.6],[90,16.9],[100,36.9],[104,28.0],[108,22.9],[110,33.2],[100,26.8],[95,20.8],[57,14.2],[63,16.6],[45,31.2],[41,34.2],[39,27.0],[43,19.5],[51,28.4],[59,31.2],[67,37.0],[73,42.0],[53,23.0],[61,20.4],[69,32.5],[77,24.6],[81,40.9],[85,45.6],[71,47.5],[63,49.4],[55,47.2],[47,43.6],[93,47.4],[101,41.6],[105,47.0],[115,37.7],[125,31.0],[127,21.2],
[45,13.0],[47,18.8],[49,24.2],[51,29.6],[53,35.0],[55,40.4],[57,45.8],[59,13.6],[61,19.2],[63,24.6],[65,30.0],[67,35.4],[69,40.8],[71,14.2],[73,19.6],[75,25.0],[77,30.4],[79,35.8],[81,41.2],[83,14.8],[85,20.2],[87,25.6],[89,31.0],[91,36.4],[46,16.0],[48,21.4],[50,26.8],[52,32.2],[54,37.6],[56,43.0],[58,16.6],[60,22.0],[62,27.4],[64,32.8],[66,38.2],[68,43.6],[70,17.2],[72,22.6],[74,28.0],[76,33.4],[78,38.8],[80,44.2],[82,17.8],[84,23.2],[86,28.6],[88,34.0],[90,39.4],[44,33.8],[46,28.4],[48,39.2],[50,44.6],[52,17.4],[54,22.8],[56,28.2],[58,37.0],[60,42.4],[62,15.0],[64,20.4],[66,25.8],[68,31.2],[70,36.6],[72,42.0],[74,15.6],[76,21.0],[78,26.4],[80,31.8],[82,37.2],[84,42.6],[43,25.0],[41,29.0],[40,38.6],[39,23.0],[42,18.4],[45,42.8],[47,37.0],[49,12.4],[51,40.6],[53,14.6],[55,17.0],[57,23.8],[59,28.6],[61,39.0],[63,42.2],[65,27.6],[67,20.8],[69,13.8],[71,29.2],[73,36.0],[75,18.2],[77,29.0],[79,16.8],[81,23.6],[83,33.0],[85,39.6],[87,15.6],[89,21.6],[91,26.2],[93,31.8],[95,36.8],[97,41.8],[94,13.4],[96,22.6],[98,29.8],[100,34.0],[102,24.4],[104,37.8],[106,19.4],[108,31.0],[110,42.8],[112,27.0],[114,21.4],[116,34.8],[118,44.2],[120,29.2],[122,16.0],[124,38.0],[126,26.8],[128,33.0],[130,19.0]];

// third pass where the reference cloud is solid black
var coreDeep = [[44.5,12.9],[48.5,11.3],[52.5,12.7],[56.5,13.5],[60.5,11.7],[64.5,12.3],[68.5,11.3],[72.5,12.1],[76.5,13.9],[80.5,12.9],[84.5,11.1],[88.5,13.5],[92.5,12.7],[96.5,11.7],[100.5,13.3],[104.5,12.5],[108.5,13.9],
[42.5,16.9],[46.5,17.3],[50.5,15.1],[54.5,16.7],[58.5,18.1],[62.5,17.7],[66.5,16.9],[70.5,15.9],[74.5,16.5],[78.5,18.5],[82.5,16.9],[86.5,18.1],[90.5,17.7],[94.5,18.3],[98.5,16.7],[102.5,17.9],[106.5,18.1],[110.5,16.9],
[40.5,21.9],[44.5,20.7],[48.5,23.1],[52.5,21.1],[56.5,22.9],[60.5,20.1],[64.5,22.5],[68.5,23.3],[72.5,20.3],[76.5,23.5],[80.5,22.1],[84.5,20.9],[88.5,23.9],[92.5,22.9],[96.5,21.7],[100.5,23.3],[104.5,22.1],
[38.5,25.3],[42.5,27.3],[46.5,26.9],[50.5,24.9],[54.5,27.7],[58.5,24.3],[62.5,25.1],[66.5,27.1],[70.5,24.5],[74.5,26.7],[78.5,28.3],[82.5,24.3],[86.5,26.5],[90.5,25.1],[94.5,27.9],[98.5,26.9],[102.5,25.5],
[37.5,30.5],[41.5,31.9],[45.5,29.5],[49.5,32.9],[53.5,30.1],[57.5,31.5],[61.5,29.7],[65.5,32.3],[69.5,29.9],[73.5,32.1],[77.5,30.5],[81.5,32.9],[85.5,29.9],[89.5,32.5],[93.5,30.3],[97.5,31.9],[101.5,32.7],
[38.5,36.9],[42.5,34.5],[46.5,36.3],[50.5,34.9],[54.5,36.7],[58.5,35.9],[62.5,34.3],[66.5,37.1],[70.5,35.7],[74.5,36.5],[78.5,34.9],[82.5,36.1],[86.5,34.3],[90.5,37.7],[94.5,36.9],[98.5,34.9],
[39.5,40.9],[43.5,39.7],[47.5,41.5],[51.5,39.3],[55.5,42.5],[59.5,39.9],[63.5,41.7],[67.5,40.1],[71.5,42.9],[75.5,41.5],[79.5,39.9],[83.5,40.3],[87.5,42.1],[91.5,39.7],[95.5,41.3],
[41.5,45.3],[45.5,47.7],[49.5,46.1],[53.5,45.3],[57.5,47.9],[61.5,46.5],[65.5,47.3],[69.5,45.7],[73.5,46.1],[77.5,47.7],[81.5,45.9],[85.5,47.9],[89.5,46.7],[93.5,45.1],[97.5,47.3],[103.5,46.1],[108.5,47.3],[113.5,45.9],[118.5,47.7],[123.5,46.1],
[43.5,50.9],[47.5,53.5],[51.5,51.1],[55.5,52.9],[59.5,50.3],[63.5,52.5],[67.5,54.1],[71.5,51.9],[75.5,52.5],[79.5,50.1],[83.5,52.1],[87.5,51.1],[91.5,54.1],[95.5,52.9],[99.5,50.7],[105.5,52.9],[111.5,51.5],[117.5,53.9],[123.5,52.7],[129.5,54.3],
[91.5,57.1],[96.5,59.3],[101.5,57.7],[106.5,56.3],[111.5,58.9],[116.5,57.3],[121.5,59.9],[126.5,57.9],[131.5,59.7],[93.5,62.9],[99.5,61.3],[104.5,63.9],[109.5,62.3],[114.5,64.1],[119.5,62.7],[124.5,64.5],[129.5,62.9],[95.5,67.9],[101.5,66.3],[107.5,68.1],[113.5,66.7],[119.5,67.1],[125.5,68.9],[131.5,66.5],
[105.5,10.3],[111.5,11.9],[117.5,10.1],[123.5,12.1],[129.5,11.7],[107.5,15.5],[113.5,16.9],[119.5,15.1],[125.5,17.3],[131.5,16.3],[107.5,21.9],[113.5,20.3],[119.5,22.9],[125.5,21.3],[131.5,22.7],[106.5,26.9],[112.5,25.3],[118.5,27.1],[124.5,26.5],[130.5,27.7],[105.5,31.9],[111.5,32.3],[117.5,30.9],[123.5,31.5],[129.5,30.1],[104.5,36.3],[110.5,37.9],[116.5,36.1],[122.5,35.3],[128.5,36.5],[103.5,41.3],[109.5,40.1],[115.5,41.9],[121.5,40.7],[127.5,41.1],
[47.5,14.5],[51.5,16.3],[55.5,19.7],[59.5,16.9],[63.5,18.1],[67.5,15.3],[71.5,17.5],[75.5,19.1],[49.5,21.1],[53.5,24.3],[57.5,26.7],[61.5,22.7],[65.5,24.1],[69.5,27.3],[73.5,24.1],[77.5,21.7],[47.5,28.5],[51.5,26.3],[55.5,28.9],[59.5,25.1],[63.5,27.9],[67.5,25.5],[71.5,26.1],[75.5,28.7],[47.5,35.3],[51.5,37.7],[55.5,33.9],[59.5,36.1],[63.5,33.5],[67.5,36.3],[71.5,32.7],[75.5,34.1],[49.5,42.7],[53.5,40.3],[57.5,38.1],[61.5,41.3],[65.5,39.1],[69.5,37.9],[73.5,39.5],[77.5,43.3]];

// last pass: remaining gaps in the cloud and its upper shoulder
var cloudLast = [[43.2,14.1],[47.7,13.3],[51.2,12.1],[55.7,15.9],[59.2,14.7],[63.7,13.9],[67.2,12.9],[71.7,16.1],[75.2,14.9],[79.7,13.5],[83.2,16.5],[87.7,14.3],
[41.2,19.3],[45.7,18.9],[49.2,17.7],[53.7,18.3],[57.2,19.9],[61.7,17.1],[65.2,19.5],[69.7,18.7],[73.2,17.3],[77.7,19.9],[81.2,19.1],[85.7,17.5],[89.2,19.7],
[39.7,24.7],[43.2,23.9],[47.7,22.5],[51.2,23.3],[55.7,21.7],[59.2,22.1],[63.7,23.5],[67.2,21.9],[71.7,22.9],[75.2,24.3],[79.7,23.1],[83.2,24.9],[87.7,21.5],
[38.2,29.1],[42.7,28.5],[46.2,27.7],[50.7,28.9],[54.2,26.5],[58.7,27.3],[62.2,28.7],[66.7,26.1],[70.2,27.5],[74.7,29.3],[78.2,27.1],[82.7,28.1],[86.7,27.3],[90.2,29.5],
[39.2,33.1],[43.7,32.3],[47.2,33.9],[51.7,31.5],[55.2,32.9],[59.7,33.7],[63.2,31.9],[67.7,33.3],[71.2,31.1],[75.7,32.7],[79.2,33.5],[83.7,31.3],[87.2,32.1],
[40.7,38.1],[44.2,39.3],[48.7,37.9],[52.2,38.7],[56.7,36.9],[60.2,37.7],[64.7,38.9],[68.2,37.3],[72.7,38.5],[76.2,37.1],[80.7,38.3],[84.2,39.1],[88.7,38.1],
[42.2,43.9],[46.7,42.7],[50.2,43.3],[54.7,44.1],[58.2,42.1],[62.7,44.9],[66.2,42.9],[70.7,43.9],[74.2,43.1],[78.7,44.5],[82.2,42.3],[86.7,43.5],
[92.2,8.9],[97.7,10.5],[103.2,8.3],[108.7,10.9],[114.2,8.7],[119.7,11.3],[125.2,9.7],[130.7,11.9],
[93.2,15.7],[98.7,14.9],[104.2,15.9],[109.7,14.3],[115.2,16.1],[120.7,14.7],[126.2,15.3],[132.7,14.1],
[93.7,20.7],[99.2,21.1],[104.7,19.9],[110.2,20.1],[115.7,22.3],[121.2,21.3],[126.7,20.1],[133.2,19.3],
[92.7,26.1],[98.2,24.7],[103.7,26.7],[109.2,25.9],[114.7,27.7],[120.2,25.3],[125.7,27.9],[131.2,26.3],
[92.2,31.1],[97.7,29.5],[103.2,30.9],[108.7,29.3],[114.2,32.1],[119.7,31.9],[125.2,30.1],[130.7,31.1],
[93.7,35.9],[99.2,37.3],[104.7,35.1],[110.2,36.7],[115.7,35.5],[121.2,37.9],[126.7,36.9],[132.2,37.7],
[92.7,41.3],[98.2,42.7],[103.7,43.9],[109.2,42.9],[114.7,44.1],[120.2,42.9],[125.7,43.3],[131.2,41.9],
[91.2,46.9],[96.7,45.7],[102.2,47.1],[107.7,48.5],[113.2,47.7],[118.7,45.9],[124.2,48.1],[129.7,46.5],
[92.7,51.3],[98.2,52.9],[103.7,51.7],[109.2,53.1],[114.7,52.7],[120.2,51.3],[125.7,50.7],[131.2,52.3],
[45.7,56.9],[51.2,55.1],[56.7,57.9],[62.2,56.1],[67.7,57.3],[73.2,56.5],[78.7,57.9],[84.2,58.3],[89.7,56.9],[95.2,57.3],[100.7,55.5],[106.2,57.5],[111.7,56.1],[117.2,55.7],[122.7,58.1],[128.2,56.9],[133.7,58.3],
[47.2,61.9],[52.7,62.5],[58.2,63.9],[63.7,62.9],[69.2,63.1],[74.7,63.3],[80.2,62.5],[85.7,61.3],[91.2,62.1],[96.7,63.9],[102.2,61.5],[107.7,62.9],[113.2,63.3],[118.7,61.9],[124.2,63.1],[129.7,61.3],
[49.2,66.9],[55.7,67.5],[61.2,68.9],[67.7,67.9],[73.2,66.9],[79.7,67.3],[85.2,66.9],[91.7,66.3],[97.2,67.5],[103.7,68.5],[109.2,66.7],[115.7,69.3],[121.2,67.3],[127.7,67.9],
[138.2,17.3],[145.7,19.9],[153.2,17.7],[160.7,18.9],[168.2,16.1],[176.7,18.1],[185.2,15.9],
[137.7,25.1],[144.2,24.1],[151.7,25.9],[158.2,23.3],[165.7,26.1],[172.2,24.7],[179.7,26.9],[188.2,25.3],[196.7,23.1],
[138.7,31.7],[145.2,29.3],[152.7,33.3],[159.2,30.3],[166.7,32.9],[173.2,29.9],[180.7,33.1],[188.2,31.9],[195.7,30.9],
[140.2,38.1],[147.7,35.3],[154.2,39.3],[161.7,36.7],[168.2,40.1],[175.7,37.9],[182.2,35.5],[190.7,39.5],
[139.7,45.1],[146.2,43.9],[153.7,45.5],[160.2,43.3],[167.7,47.9],[174.2,45.7],[181.7,44.1],[188.2,47.3],
[140.2,52.1],[147.7,50.1],[154.2,51.5],[161.7,53.9],[168.2,52.5],[175.7,50.9],[182.2,52.1],
[139.2,57.9],[146.7,59.3],[153.2,57.1],[160.7,58.3],[167.2,57.3],[174.7,58.7],
[138.7,63.9],[145.2,63.1],[152.7,64.9],[159.2,65.3],[166.7,63.7],[173.2,62.3],[180.7,65.3],
[139.2,70.1],[146.7,69.7],[153.2,70.3],[160.7,68.9],[167.2,69.1],[175.7,68.1],
[137.2,76.1],[144.7,77.9],[151.2,79.9],[158.7,78.3],[165.2,79.5],[172.7,77.5],
[139.7,83.1],[148.2,85.1],[155.7,84.9],[163.2,82.1],[170.7,81.9],[181.2,84.1],
[142.7,89.3],[150.2,91.1],[159.7,91.9],[167.2,88.9],[175.2,93.1],
[62.2,81.1],[67.7,79.9],[74.2,83.1],[80.2,80.1],[85.7,82.1],[93.2,79.3],[100.2,79.9],[105.2,83.9],[113.7,84.1],[120.7,81.1],[127.2,86.9],
[66.7,89.1],[72.2,86.9],[79.7,88.9],[85.2,90.1],[95.2,89.3],[101.7,86.1],[111.7,91.1],[116.2,89.1],[123.2,94.9],[129.7,91.1],
[70.2,99.1],[78.2,94.9],[90.2,96.9],[101.2,94.9],[110.2,99.9],[126.2,98.9]];

var points = [].concat(upperLeft, upperMid, upperRight, lowerLeftSparse, lowerMid, lowerRight, denseBands, cloudFill, coreExtra, coreDeep, cloudLast);

var W = 1024, H = 768;
var plot = {left: 162, right: 814, top: 221, bottom: 678};
var navy = "#0b3a6c";
var green = "#9dcc99";

var svg = d3.select("#slide")
    .append("svg")
        .attr("width", W)
        .attr("height", H);

// slide background shapes
svg.append("rect").attr("x", 0).attr("y", 0).attr("width", 358).attr("height", 188).attr("fill", green);
svg.append("rect").attr("x", 0).attr("y", 0).attr("width", 68).attr("height", H).attr("fill", green);
svg.append("rect")
    .attr("x", 85).attr("y", 85)
    .attr("width", 1200).attr("height", 300)
    .attr("rx", 30).attr("ry", 30)
    .attr("fill", "#fff");
svg.append("rect")
    .attr("x", 33).attr("y", 170)
    .attr("width", 70).attr("height", 36)
    .attr("rx", 18).attr("ry", 18)
    .attr("fill", navy);
svg.append("rect").attr("x", 60).attr("y", 170).attr("width", 802).attr("height", 18).attr("fill", navy);
svg.append("rect").attr("x", 68).attr("y", 188).attr("width", W).attr("height", H).attr("fill", "#fff");

// title with its soft shadow
svg.append("text")
    .attr("x", 142).attr("y", 140)
    .attr("font-size", "45.5px")
    .attr("font-weight", "bold")
    .attr("fill", "#a9b5b3")
    .text(titleText);
svg.append("text")
    .attr("x", 140).attr("y", 138)
    .attr("font-size", "45.5px")
    .attr("font-weight", "bold")
    .attr("fill", "#10706c")
    .text(titleText);

var x = d3.scaleLinear()
    .domain([0, 400])
    .range([plot.left, plot.right]);

var y = d3.scaleLinear()
    .domain([0, 150])
    .range([plot.bottom, plot.top]);

// frame (top and right)
svg.append("path")
    .attr("d", "M" + plot.left + "," + plot.top + "H" + plot.right + "V" + plot.bottom)
    .attr("fill", "none")
    .attr("stroke", "#333")
    .attr("stroke-width", 1.3);

var g = svg.append("g");
g.selectAll("circle").data(points)
    .enter().append("circle")
        .attr("cx", function(d){ return x(d[0]); })
        .attr("cy", function(d){ return y(d[1]); })
        .attr("r", 2.4)
        .attr("fill", "#000");

var xAxisCall = d3.axisBottom(x)
    .tickValues(xTicks)
    .tickSize(6)
    .tickSizeOuter(0)
    .tickPadding(13);
var xAxis = svg.append("g")
    .attr("transform", "translate(0," + plot.bottom + ")")
    .call(xAxisCall);

var yAxisCall = d3.axisLeft(y)
    .tickValues(yTicks)
    .tickSize(7)
    .tickSizeOuter(0)
    .tickPadding(9);
var yAxis = svg.append("g")
    .attr("transform", "translate(" + plot.left + ",0)")
    .call(yAxisCall);

[xAxis, yAxis].forEach(function(a){
    a.selectAll("text")
        .attr("font-size", "17px")
        .attr("font-family", "'Liberation Sans', Arial, sans-serif")
        .attr("fill", "#000");
    a.selectAll("line").attr("stroke", "#222").attr("stroke-width", 1.5);
    a.select(".domain").attr("stroke", "#222").attr("stroke-width", 2);
});

svg.append("text")
    .attr("x", 489).attr("y", 753)
    .attr("font-size", "21.5px")
    .attr("text-anchor", "middle")
    .text(xLabelText);

svg.append("text")
    .attr("transform", "translate(93,450) rotate(-90)")
    .attr("font-size", "21px")
    .attr("text-anchor", "middle")
    .text(yLabelText);

// stray footer rule under the chart
svg.append("line")
    .attr("x1", 162).attr("x2", 407)
    .attr("y1", 759).attr("y2", 759)
    .attr("stroke", "#888")
    .attr("stroke-width", 1.5);

// bullet
svg.append("circle")
    .attr("cx", 764).attr("cy", 280)
    .attr("r", 8.5)
    .attr("fill", navy);
svg.selectAll(".bullet").data(bulletLines)
    .enter().append("text")
        .attr("class", "bullet")
        .attr("x", 791)
        .attr("y", function(d, i){ return 292 + i * 47; })
        .attr("font-size", "40.5px")
        .attr("fill", navy)
        .text(function(d){ return d; });
</script>
</body>
</html>
